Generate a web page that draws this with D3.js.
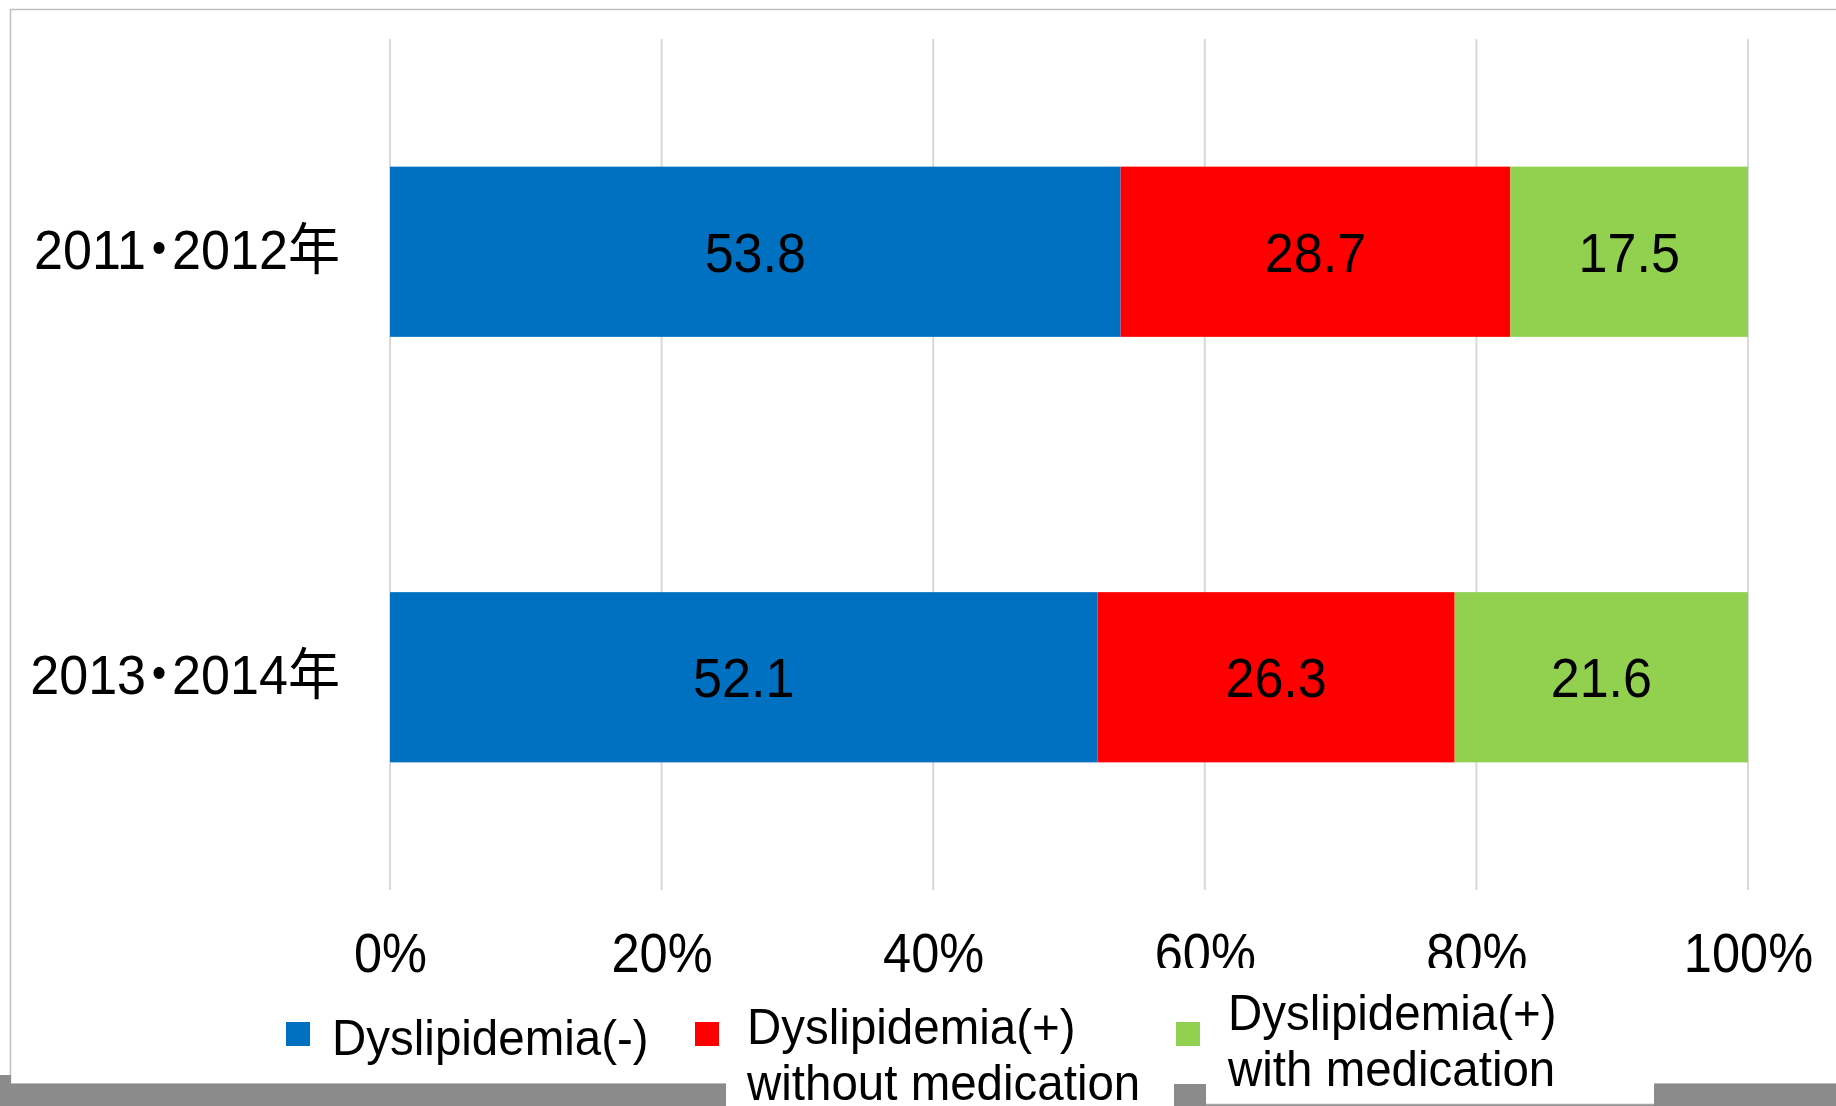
<!DOCTYPE html>
<html>
<head>
<meta charset="utf-8">
<script src="https://cdn.jsdelivr.net/npm/d3@7/dist/d3.min.js"></script>
<style>
  html, body { margin: 0; padding: 0; background: #ffffff; }
  svg { display: block; }
  text { font-family: "Liberation Sans", Arial, "Noto Sans CJK JP", sans-serif; fill: #000; }
  .cat { font-feature-settings: "halt" 1; }
</style>
</head>
<body>
<svg id="chart" width="1836" height="1106"></svg>
<script>
// Survey periods (one horizontal bar each)
const categories = ["2011・2012年", "2013・2014年"];

// Share of respondents (%) per group
const series = [
  "Dyslipidemia(-)",
  "Dyslipidemia(+) without medication",
  "Dyslipidemia(+) with medication"
];
const dyslipidemiaNone = [53.8, 52.1];
const dyslipidemiaNoMed = [28.7, 26.3];
const dyslipidemiaMed = [17.5, 21.6];

// Legend text, split into the lines it is drawn on
const legendLines = [
  ["Dyslipidemia(-)"],
  ["Dyslipidemia(+)", "without medication"],
  ["Dyslipidemia(+)", "with medication"]
];

// Axis ticks
const tickValues = [0, 20, 40, 60, 80, 100];
const tickLabels = ["0%", "20%", "40%", "60%", "80%", "100%"];

const colors = ["#0070C0", "#FF0000", "#92D050"];

const W = 1836, H = 1106;
const svg = d3.select("#chart");
const SQ = 0.93; // horizontal squeeze applied to the text

const plot = { left: 390, right: 1748, top: 39, bottom: 890 };

const x = d3.scaleLinear().domain([0, 100]).range([plot.left, plot.right]);
const y = d3.scaleBand().domain(categories).range([plot.top, plot.bottom])
  .paddingInner(0.6).paddingOuter(0.3);

const rows = categories.map((c, i) => ({
  cat: c,
  [series[0]]: dyslipidemiaNone[i],
  [series[1]]: dyslipidemiaNoMed[i],
  [series[2]]: dyslipidemiaMed[i]
}));
const stacked = d3.stack().keys(series)(rows);

// Chart frame
svg.append("rect").attr("x", 10).attr("y", 9).attr("width", W).attr("height", 1075)
  .attr("fill", "#fff");
svg.append("line").attr("x1", 10.5).attr("x2", 10.5).attr("y1", 9).attr("y2", 1084)
  .attr("stroke", "#bfbfbf").attr("stroke-width", 1.5);
svg.append("line").attr("x1", 10).attr("x2", W).attr("y1", 9.5).attr("y2", 9.5)
  .attr("stroke", "#bfbfbf").attr("stroke-width", 1.5);

// Vertical gridlines
svg.append("g").selectAll("line").data(tickValues).join("line")
  .attr("x1", d => x(d)).attr("x2", d => x(d))
  .attr("y1", plot.top).attr("y2", plot.bottom)
  .attr("stroke", "#d9d9d9").attr("stroke-width", 2);

// Stacked bars
const layers = svg.append("g").selectAll("g").data(stacked).join("g")
  .attr("fill", (d, i) => colors[i]);
layers.selectAll("rect").data(d => d).join("rect")
  .attr("x", d => x(d[0]))
  .attr("width", d => x(d[1]) - x(d[0]))
  .attr("y", d => y(d.data.cat))
  .attr("height", y.bandwidth());

// Value labels centred in each segment
layers.selectAll("text").data(d => d).join("text")
  .attr("transform", d => `translate(${(x(d[0]) + x(d[1])) / 2},${y(d.data.cat) + y.bandwidth() / 2 + 20}) scale(${SQ},1)`)
  .attr("text-anchor", "middle")
  .attr("font-size", 56)
  .text(d => (d[1] - d[0]).toFixed(1));

// Category labels
svg.append("g").selectAll("text").data(categories).join("text")
  .attr("class", "cat")
  .attr("transform", d => `translate(340,${y(d) + y.bandwidth() / 2 + 17}) scale(${SQ},1)`)
  .attr("text-anchor", "end")
  .attr("font-size", 56)
  .text(d => d);

// X axis tick labels
const xAxis = d3.axisBottom(x).tickValues(tickValues)
  .tickFormat((d, i) => tickLabels[i]).tickSize(0);
const axG = svg.append("g").attr("transform", `translate(0,${plot.bottom})`).call(xAxis);
axG.attr("font-family", null).attr("font-size", null);
axG.select(".domain").remove();
axG.selectAll("text")
  .attr("y", 82).attr("dy", 0)
  .attr("font-size", 55)
  .attr("transform", `scale(0.92,1)`)
  .attr("fill", "#000");

// Grey strip along the lower edge
svg.append("rect").attr("x", 0).attr("y", 1075).attr("width", 11).attr("height", 31).attr("fill", "#8a8b8a");
svg.append("rect").attr("x", 11).attr("y", 1084).attr("width", W - 11).attr("height", 22).attr("fill", "#8a8b8a");
svg.append("line").attr("x1", 11).attr("x2", W).attr("y1", 1083.5).attr("y2", 1083.5)
  .attr("stroke", "#bdbdbd").attr("stroke-width", 1);

// Legend text boxes
svg.append("rect").attr("x", 726).attr("y", 990).attr("width", 448).attr("height", 116).attr("fill", "#fff");
svg.append("rect").attr("x", 1140).attr("y", 968).attr("width", 514).attr("height", 116).attr("fill", "#fff");
svg.append("rect").attr("x", 1206).attr("y", 968).attr("width", 448).attr("height", 136).attr("fill", "#fff");
svg.append("line").attr("x1", 1206).attr("x2", 1654).attr("y1", 1104.5).attr("y2", 1104.5)
  .attr("stroke", "#a6a6a6").attr("stroke-width", 1.5);

// Legend entries
const legendPos = [
  { sx: 286, tx: 332, base: 1055 },
  { sx: 695, tx: 747, base: 1044 },
  { sx: 1176, tx: 1228, base: 1030 }
];
const leg = svg.append("g").selectAll("g").data(series).join("g");
leg.append("rect")
  .attr("x", (d, i) => legendPos[i].sx).attr("y", 1022)
  .attr("width", 24).attr("height", 24)
  .attr("fill", (d, i) => colors[i]);
leg.each(function (d, i) {
  const g = d3.select(this);
  legendLines[i].forEach((line, j) => {
    g.append("text")
      .attr("transform", `translate(${legendPos[i].tx},${legendPos[i].base + j * 56}) scale(0.95,1)`)
      .attr("font-size", 50)
      .text(line);
  });
});
</script>
</body>
</html>
